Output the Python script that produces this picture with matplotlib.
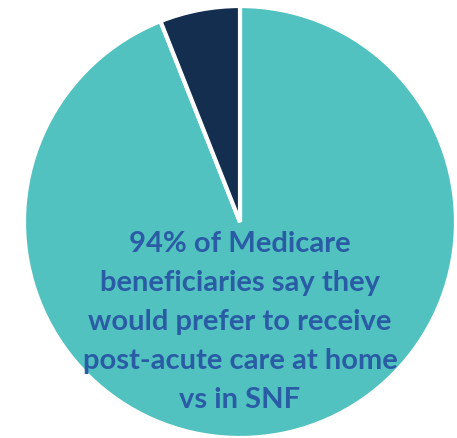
import matplotlib
matplotlib.use("Agg")
import matplotlib.pyplot as plt

labels = ["Prefer home", "Prefer SNF"]
shares = [94, 6]
colors = ["#52C2C0", "#132E4E"]
message = ["94% of Medicare",
           "beneficiaries say they",
           "would prefer to receive",
           "post-acute care at home",
           "vs in SNF"]

W, H = 457, 438
fig = plt.figure(figsize=(W / 100, H / 100), dpi=100)
ax = fig.add_axes([0, 0, 1, 1])
cx, cy, r = 240, 222, 216
ax.set_xlim(-cx, W - cx)
ax.set_ylim(-(H - cy), cy)
ax.axis("off")

ax.pie(shares, colors=colors, startangle=90, counterclock=False, radius=r,
       center=(0, 0), frame=True,
       wedgeprops=dict(edgecolor="white", linewidth=3))
ax.set_xlim(-cx, W - cx)
ax.set_ylim(-(H - cy), cy)
ax.axis("off")

y0 = -(252 - cy)
step = 39
for i, line in enumerate(message):
    ax.text(0, y0 - i * step, line, ha="center", va="baseline",
            fontsize=21, fontweight="bold", family="Lato", color="#2A5CA6")

fig.savefig("out.png", dpi=100)
